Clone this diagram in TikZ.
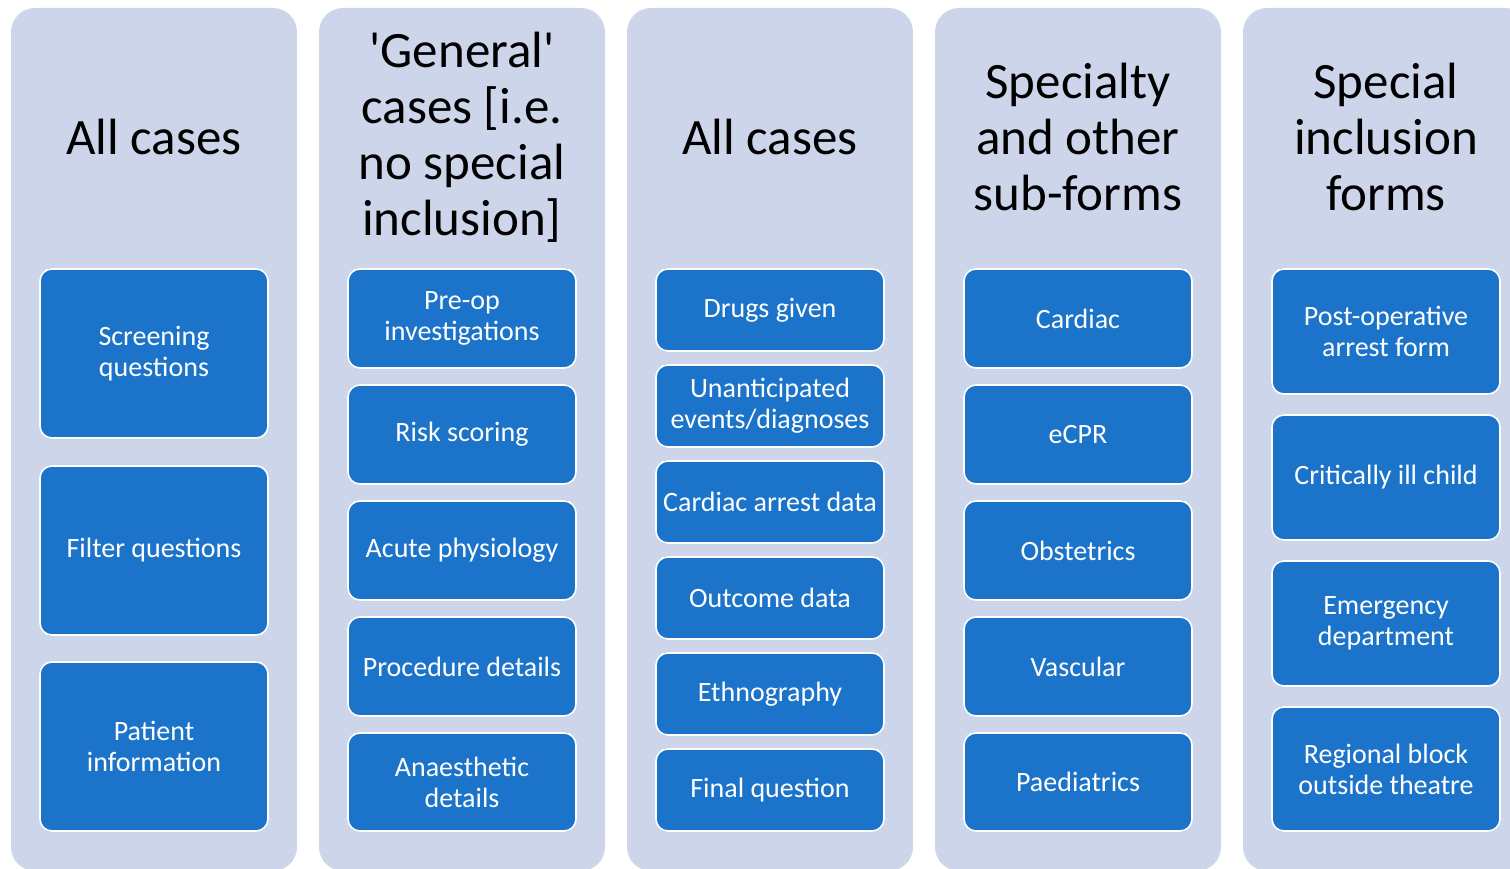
\documentclass[tikz,border=0pt]{standalone}
\usepackage{fontspec}
\setmainfont{Carlito}
\usepackage{tikz}
\definecolor{lanebg}{HTML}{CDD5EA}
\definecolor{formblue}{HTML}{1B74C9}

\tikzset{
    lane/.style={fill=lanebg, rounded corners=24pt},
    lanetitle/.style={align=center, font=\fontsize{51}{56}\selectfont, text=black},
    formbox/.style={draw=white, line width=1.6pt, fill=formblue, rounded corners=12pt,
        minimum width=228pt, inner sep=0pt, align=center, text=white,
        font=\fontsize{28}{31}\selectfont},
}

\begin{document}
\begin{tikzpicture}[x=1pt,y=-1pt]

    % Ukuran gambar sama dengan referensi
    \useasboundingbox (0,0) rectangle (1510,869);
    \clip (0,0) rectangle (1510,869);

    % Latar tiap kolom
    \foreach \cx in {154,462,770,1078,1386}
        \fill[lane] (\cx-143,8) rectangle (\cx+143,871);

    % Judul kolom
    \node[lanetitle] (tall) at (154,137) {All cases};
    \node[lanetitle] (tgen) at (462,137) {\textquotesingle General\textquotesingle\\cases [i.e.\\no special\\inclusion]};
    \node[lanetitle] (tallb) at (770,137) {All cases};
    \node[lanetitle] (tspec) at (1078,137) {Specialty\\and other\\sub-forms};
    \node[lanetitle] (tincl) at (1386,137) {Special\\inclusion\\forms};

    % Kolom 1
    \node[formbox, minimum height=169pt] (screen) at (154,353.5) {Screening\\questions};
    \node[formbox, minimum height=169pt] (filter) at (154,550.5) {Filter questions};
    \node[formbox, minimum height=169pt] (patient) at (154,746.5) {Patient\\information};

    % Kolom 2
    \node[formbox, minimum height=99pt] (preop) at (462,318.5) {Pre-op\\investigations};
    \node[formbox, minimum height=99pt] (risk) at (462,434.5) {Risk scoring};
    \node[formbox, minimum height=99pt] (physio) at (462,550.5) {Acute physiology};
    \node[formbox, minimum height=99pt] (proc) at (462,666.5) {Procedure details};
    \node[formbox, minimum height=98pt] (anaes) at (462,782) {Anaesthetic\\details};

    % Kolom 3
    \node[formbox, minimum height=82pt] (drugs) at (770,310) {Drugs given};
    \node[formbox, minimum height=82pt] (events) at (770,406) {Unanticipated\\events/diagnoses};
    \node[formbox, minimum height=82pt] (arrest) at (770,502) {Cardiac arrest data};
    \node[formbox, minimum height=82pt] (outcome) at (770,598) {Outcome data};
    \node[formbox, minimum height=82pt] (ethno) at (770,694) {Ethnography};
    \node[formbox, minimum height=82pt] (final) at (770,790) {Final question};

    % Kolom 4
    \node[formbox, minimum height=99pt] (cardiac) at (1078,318.5) {Cardiac};
    \node[formbox, minimum height=99pt] (ecpr) at (1078,434.5) {eCPR};
    \node[formbox, minimum height=99pt] (obst) at (1078,550.5) {Obstetrics};
    \node[formbox, minimum height=99pt] (vasc) at (1078,666.5) {Vascular};
    \node[formbox, minimum height=98pt] (paed) at (1078,782) {Paediatrics};

    % Kolom 5
    \node[formbox, minimum height=125pt] (postop) at (1386,331.5) {Post-operative\\arrest form};
    \node[formbox, minimum height=125pt] (child) at (1386,477.5) {Critically ill child};
    \node[formbox, minimum height=125pt] (emerg) at (1386,623.5) {Emergency\\department};
    \node[formbox, minimum height=124pt] (block) at (1386,769) {Regional block\\outside theatre};

\end{tikzpicture}
\end{document}
